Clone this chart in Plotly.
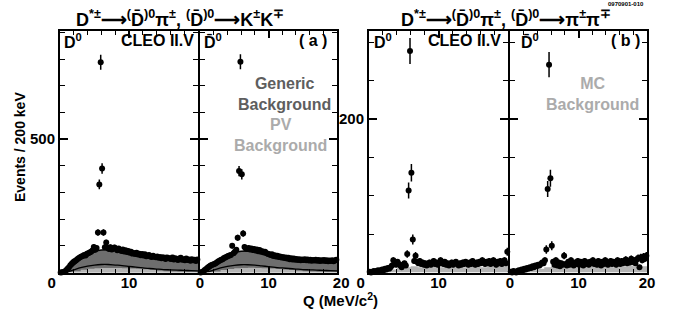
import numpy as np
import plotly.graph_objects as go

W, H = 678, 322
FONT = "Liberation Sans"

# ---------------- data ----------------
# bin centres (200 keV bins) for Q in MeV/c^2
q_bins = [round(0.1 + 0.2 * i, 1) for i in range(100)]

# (a) D*+- -> D0 pi, D0 -> K+K-   : D0 panel
a_left_counts = [
    0, 1, 2, 4, 8, 14, 20, 27, 33, 38,
    42, 45, 50, 53, 57, 60, 62, 66, 64, 70,
    72, 75, 78, 82, 96, 85, 92, 150, 330, 788,
    390, 150, 95, 112, 92, 88, 95, 86, 90, 94,
    89, 83, 90, 84, 81, 86, 79, 83, 77, 81,
    74, 78, 71, 73, 69, 74, 67, 70, 65, 69,
    64, 68, 61, 63, 66, 60, 58, 63, 59, 57,
    60, 55, 58, 53, 57, 55, 51, 56, 54, 52,
    51, 56, 49, 53, 50, 47, 52, 55, 48, 50,
    46, 52, 47, 49, 44, 50, 46, 48, 43, 49,
]
# (a) D0bar panel
a_right_counts = [
    0, 2, 5, 9, 13, 18, 22, 25, 28, 30,
    32, 35, 38, 42, 45, 48, 50, 54, 56, 59,
    62, 64, 66, 100, 72, 78, 85, 130, 380, 790,
    368, 146, 96, 90, 88, 92, 86, 90, 84, 88,
    82, 86, 80, 84, 78, 80, 75, 78, 72, 70,
    68, 66, 68, 62, 65, 60, 63, 58, 60, 56,
    58, 54, 56, 52, 55, 50, 53, 49, 52, 48,
    51, 47, 50, 46, 49, 47, 50, 46, 49, 45,
    48, 44, 47, 45, 48, 44, 47, 43, 46, 44,
    47, 43, 46, 42, 45, 43, 46, 42, 45, 48,
]
# (b) D0 -> pi+pi- : D0 panel
b_left_counts = [
    1, 0, 1, 2, 1, 2, 3, 2, 3, 4,
    3, 5, 4, 6, 5, 7, 9, 16, 12, 10,
    14, 11, 9, 7, 10, 12, 9, 24, 107, 289,
    130, 43, 15, 22, 14, 12, 15, 11, 13, 10,
    12, 9, 11, 13, 10, 12, 15, 11, 13, 10,
    12, 16, 13, 11, 14, 10, 12, 9, 11, 13,
    10, 12, 14, 11, 9, 12, 10, 13, 11, 14,
    12, 10, 13, 11, 15, 12, 10, 13, 11, 14,
    12, 16, 13, 11, 14, 12, 15, 11, 13, 16,
    12, 10, 14, 12, 15, 11, 13, 16, 12, 27,
]
# (b) D0bar panel
b_right_counts = [
    1, 0, 2, 1, 0, 2, 3, 2, 4, 3,
    5, 4, 6, 5, 7, 6, 8, 7, 9, 8,
    10, 9, 11, 13, 12, 16, 30, 109, 271, 123,
    35, 14, 10, 16, 9, 13, 8, 12, 10, 22,
    11, 9, 14, 10, 16, 12, 9, 13, 11, 15,
    10, 14, 12, 9, 15, 11, 13, 10, 14, 12,
    16, 11, 13, 10, 15, 12, 9, 14, 11, 16,
    12, 10, 13, 15, 11, 14, 12, 10, 16, 13,
    11, 15, 12, 14, 17, 12, 15, 13, 18, 14,
    16, 12, 17, 19, 7, 20, 16, 21, 18, 22,
]

# background curves sampled every 1 MeV (Q = 0..20)
q_curve = list(range(21))
a_left_total_bkg = [0, 8, 28, 52, 68, 78, 84, 85, 82, 77, 71, 65, 60, 56, 53, 51, 49, 47, 46, 45, 44]
a_left_pv_fit = [0, 2, 10, 18, 24, 28, 30, 30, 28, 26, 23, 20, 17, 15, 13, 11, 10, 9, 8, 7, 6]
a_right_total_bkg = [0, 6, 25, 48, 64, 74, 80, 81, 79, 74, 68, 63, 58, 54, 51, 49, 47, 46, 45, 44, 43]
a_right_pv_fit = [0, 2, 9, 17, 23, 27, 29, 29, 28, 25, 22, 19, 17, 15, 13, 11, 10, 9, 8, 7, 6]

# 1 MeV histograms (bin edges 0..20)
hist_edges = list(range(21))
a_left_pv_hist = [0, 1, 5, 10, 14, 16, 17, 17, 17, 16, 15, 14, 12, 10, 7, 5, 4, 3, 2, 2]
a_right_pv_hist = [0, 1, 4, 9, 13, 16, 17, 18, 17, 16, 15, 13, 11, 9, 7, 5, 4, 3, 2, 2]
b_left_mc_hist = [0, 0, 1, 4, 6, 7, 8, 7, 8, 8, 7, 8, 8, 7, 8, 8, 7, 8, 8, 9]
b_right_mc_hist = [0, 0, 1, 3, 5, 7, 8, 8, 7, 8, 9, 8, 8, 9, 8, 7, 8, 9, 8, 8]

# ---------------- styling ----------------
DARK = "#6e6e6e"
LIGHT = "#b4b4b4"
NB = "\u00a0"

def px(x):
    return x / W

def py(y):
    return 1 - y / H

Y_BOT, Y_TOP = 272.5, 31
ydom = [py(Y_BOT), py(Y_TOP)]

fig = go.Figure()

def add_hist(vals, xa, ya):
    fig.add_trace(go.Scatter(x=hist_edges, y=vals + [vals[-1]], mode="lines", line_shape="hv",
                             fill="tozeroy", fillcolor=LIGHT, line=dict(width=0, color=LIGHT),
                             xaxis=xa, yaxis=ya, hoverinfo="skip"))

def add_points(vals, xa, ya):
    fig.add_trace(go.Scatter(x=q_bins, y=vals, mode="markers",
                             marker=dict(size=6, color="black"),
                             error_y=dict(type="data", array=list(np.sqrt(vals)), width=0,
                                          thickness=1.5, color="black"),
                             cliponaxis=False, xaxis=xa, yaxis=ya))

# (a) panels
for xa, ya, tot, pvfit, pvh, cnt in [("x", "y", a_left_total_bkg, a_left_pv_fit, a_left_pv_hist, a_left_counts),
                                     ("x2", "y2", a_right_total_bkg, a_right_pv_fit, a_right_pv_hist, a_right_counts)]:
    fig.add_trace(go.Scatter(x=q_curve, y=tot, mode="lines", line_shape="spline",
                             fill="tozeroy", fillcolor=DARK, line=dict(color="black", width=1.5),
                             xaxis=xa, yaxis=ya))
    add_hist(pvh, xa, ya)
    fig.add_trace(go.Scatter(x=q_curve, y=pvfit, mode="lines", line_shape="spline",
                             line=dict(color="black", width=1.3), xaxis=xa, yaxis=ya))
    add_points(cnt, xa, ya)

# (b) panels
for xa, ya, mch, cnt in [("x3", "y3", b_left_mc_hist, b_left_counts),
                         ("x4", "y4", b_right_mc_hist, b_right_counts)]:
    add_hist(mch, xa, ya)
    add_points(cnt, xa, ya)

tickfont = dict(family=FONT, size=15, color="black", weight="bold")

def xax(dom, ticktext, anchor):
    return dict(domain=[px(dom[0]), px(dom[1])], range=[0, 20], anchor=anchor, automargin=False,
                showline=True, linecolor="black", linewidth=2, mirror="ticks",
                ticks="inside", ticklen=7, tickwidth=1.5, tickcolor="black",
                tickmode="array", tickvals=[0, 10, 20], ticktext=ticktext,
                ticklabelstandoff=-5,
                showgrid=False, zeroline=False, tickfont=tickfont,
                minor=dict(dtick=2, ticks="inside", ticklen=4, tickwidth=1.2,
                           tickcolor="black", showgrid=False))

def yax(rng, major, mdt, labels, anchor):
    return dict(domain=ydom, range=rng, anchor=anchor, automargin=False,
                showline=True, linecolor="black", linewidth=2, mirror="ticks",
                ticks="inside", ticklen=8, tickwidth=1.5, tickcolor="black",
                tickmode="array", tickvals=[major], ticktext=[str(major)],
                showticklabels=labels, showgrid=False, zeroline=False, tickfont=tickfont,
                minor=dict(dtick=mdt, ticks="inside", ticklen=5, tickwidth=1.2,
                           tickcolor="black", showgrid=False))

YA = [0, 905]
YB = [0, 315]

fig.update_layout(
    template="none",
    width=W, height=H, margin=dict(l=0, r=0, t=0, b=0, autoexpand=False),
    paper_bgcolor="white", plot_bgcolor="white", showlegend=False,
    xaxis=xax([60, 198], ["0" + NB * 4, "10", ""], "y"),
    xaxis2=xax([200, 337], ["0", "10", NB * 2 + "20"], "y2"),
    xaxis3=xax([369, 508], ["0" + NB * 4, "10", ""], "y3"),
    xaxis4=xax([510, 647], ["0", "10", "20"], "y4"),
    yaxis=yax(YA, 500, 100, True, "x"),
    yaxis2=yax(YA, 500, 100, False, "x2"),
    yaxis3=yax(YB, 200, 50, True, "x3"),
    yaxis4=yax(YB, 200, 50, False, "x4"),
)

def ann(text, x, y, size=15, color="black", xanchor="center", yanchor="middle", angle=0):
    fig.add_annotation(text=text, x=px(x), y=py(y), xref="paper", yref="paper",
                       showarrow=False, xanchor=xanchor, yanchor=yanchor, textangle=angle,
                       font=dict(family=FONT, size=size, color=color, weight="bold"))

DB = "<sup>(</sup>D\u0304<sup>)0</sup>"
AR = "⟶"
ann("D<sup>*±</sup>" + AR + DB + "π<sup>±</sup>, " + DB + AR + "K<sup>±</sup>K<sup>∓</sup>", 180, 18, size=18)
ann("D<sup>*±</sup>" + AR + DB + "π<sup>±</sup>, " + DB + AR + "π<sup>±</sup>π<sup>∓</sup>", 506, 18, size=18)
ann("0970901-010", 646, 4, size=6, xanchor="right")

for x0, x1, x2, x3, lab in [(62, 196, 202, 329, "( a )"), (372, 503, 519, 642, "( b )")]:
    ann("D<sup>0</sup>", x0, 41, size=16, xanchor="left")
    ann("CLEO II.V", x1, 41, size=16, xanchor="right")
    ann("D\u0304<sup>0</sup>", x2, 41, size=16, xanchor="left")
    ann(lab, x3, 41, size=16, xanchor="right")

ann("Generic<br>Background", 284, 94.5, size=16, color="#5e5e5e")
ann("PV<br>Background", 280, 134.5, size=16, color="#ababab")
ann("MC<br>Background", 592, 94.5, size=16, color="#ababab")

ann("Events / 200 keV", 20, 147, size=14, angle=-90)
ann("Q (MeV/c<sup>2</sup>)", 340, 299, size=15)

fig.write_html("out.html")
